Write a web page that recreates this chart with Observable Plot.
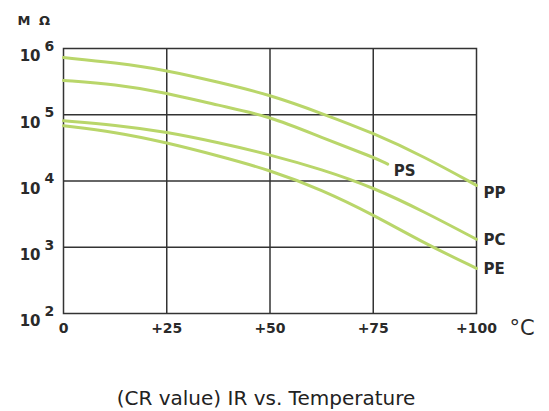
<!DOCTYPE html>
<html><head><meta charset="utf-8">
<script src="https://cdn.jsdelivr.net/npm/d3@7"></script>
<script src="https://cdn.jsdelivr.net/npm/@observablehq/plot@0.6"></script>
<style>
body{margin:0;background:#fff;}
#wrap{position:relative;width:549px;height:411px;background:#fff;}
#title{position:absolute;left:0;width:532px;top:386px;text-align:center;font-family:"DejaVu Sans";font-size:20px;line-height:24px;color:#222;}
</style></head><body>
<div id="wrap"><div id="chart"></div><div id="title">(CR value) IR vs. Temperature</div></div>
<script>
// Temperature (°C) and insulation resistance (MΩ)
const temps = [0, 12.5, 25, 37.5, 50, 62.5, 75, 87.5, 100];
const ppValues = [7.3e5, 6.1e5, 4.7e5, 3.1e5, 2.0e5, 1.05e5, 5.3e4, 2.3e4, 8.6e3];
const psTemps = [0, 12.5, 25, 37.5, 50, 62.5, 75, 78.5];
const psValues = [3.3e5, 2.9e5, 2.15e5, 1.38e5, 9.5e4, 4.5e4, 2.3e4, 1.8e4];
const pcValues = [8.1e4, 7.0e4, 5.5e4, 3.8e4, 2.5e4, 1.5e4, 8.0e3, 3.4e3, 1.32e3];
const peValues = [6.8e4, 5.5e4, 3.8e4, 2.4e4, 1.46e4, 7.4e3, 3.1e3, 1.14e3, 4.8e2];
const seriesNames = ["PP", "PS", "PC", "PE"];
const xTicks = [0, 25, 50, 75, 100];
const xTickLabels = ["0", "+25", "+50", "+75", "+100"];
const yTicks = [1e2, 1e3, 1e4, 1e5, 1e6];
const yExponents = ["2", "3", "4", "5", "6"];
const yUnit = "M Ω";
const xUnit = "°C";

const seriesData = {
  PP: temps.map((t, i) => ({series: "PP", t, v: ppValues[i]})),
  PS: psTemps.map((t, i) => ({series: "PS", t, v: psValues[i]})),
  PC: temps.map((t, i) => ({series: "PC", t, v: pcValues[i]})),
  PE: temps.map((t, i) => ({series: "PE", t, v: peValues[i]}))
};
const rows = seriesNames.flatMap(s => seriesData[s]);
const endOf = s => [seriesData[s][seriesData[s].length - 1]];

const labelOffsets = {PP: [7, 8], PS: [6, 7], PC: [7, 1], PE: [7, 1]};
const green = "#b9d66a";
const ink = "#2a2a2a";

const chart = Plot.plot({
  width: 549,
  height: 360,
  marginLeft: 63,
  marginRight: 73,
  marginTop: 48,
  marginBottom: 47,
  x: {domain: [0, 100], axis: null},
  y: {type: "log", domain: [1e2, 1e6], axis: null},
  style: {fontFamily: "DejaVu Sans", color: ink, background: "#fff", overflow: "visible"},
  marks: [
    Plot.ruleX(xTicks.slice(1, -1), {stroke: "#333", strokeWidth: 1.5}),
    Plot.ruleY(yTicks.slice(1, -1), {stroke: "#333", strokeWidth: 1.5}),
    Plot.frame({stroke: "#333", strokeWidth: 1.5}),
    Plot.line(rows, {x: "t", y: "v", z: "series", stroke: green, strokeWidth: 3, curve: "basis"}),
    ...seriesNames.map(s => Plot.text(endOf(s), {
      x: "t", y: "v", text: () => s, textAnchor: "start",
      dx: labelOffsets[s][0], dy: labelOffsets[s][1], fontSize: 15, fontWeight: "bold", fill: ink
    })),
    Plot.text(xTicks, {x: d => d, text: d => xTickLabels[xTicks.indexOf(d)], frameAnchor: "bottom", dy: 19, fontSize: 14, fontWeight: "bold", fill: ink}),
    Plot.text(yTicks, {y: d => d, text: () => "10", frameAnchor: "left", textAnchor: "end", dx: -23, dy: 8, fontSize: 15, fontWeight: "bold", fill: ink}),
    Plot.text(yTicks, {y: d => d, text: d => yExponents[yTicks.indexOf(d)], frameAnchor: "left", textAnchor: "start", dx: -19, dy: -2, fontSize: 14, fontWeight: "bold", fill: ink}),
    Plot.text([xUnit], {text: d => d, frameAnchor: "bottom-right", textAnchor: "start", dx: 33, dy: 21, fontSize: 21, fill: ink}),
    Plot.text([yUnit], {text: d => d, frameAnchor: "top-left", textAnchor: "start", dx: -46, dy: -33, fontSize: 13, fontWeight: "bold", fill: ink})
  ]
});
chart.querySelectorAll("text").forEach(t => {
  if (t.textContent === yUnit) t.setAttribute("letter-spacing", "2");
});
document.getElementById("chart").appendChild(chart);
</script>
</body></html>
